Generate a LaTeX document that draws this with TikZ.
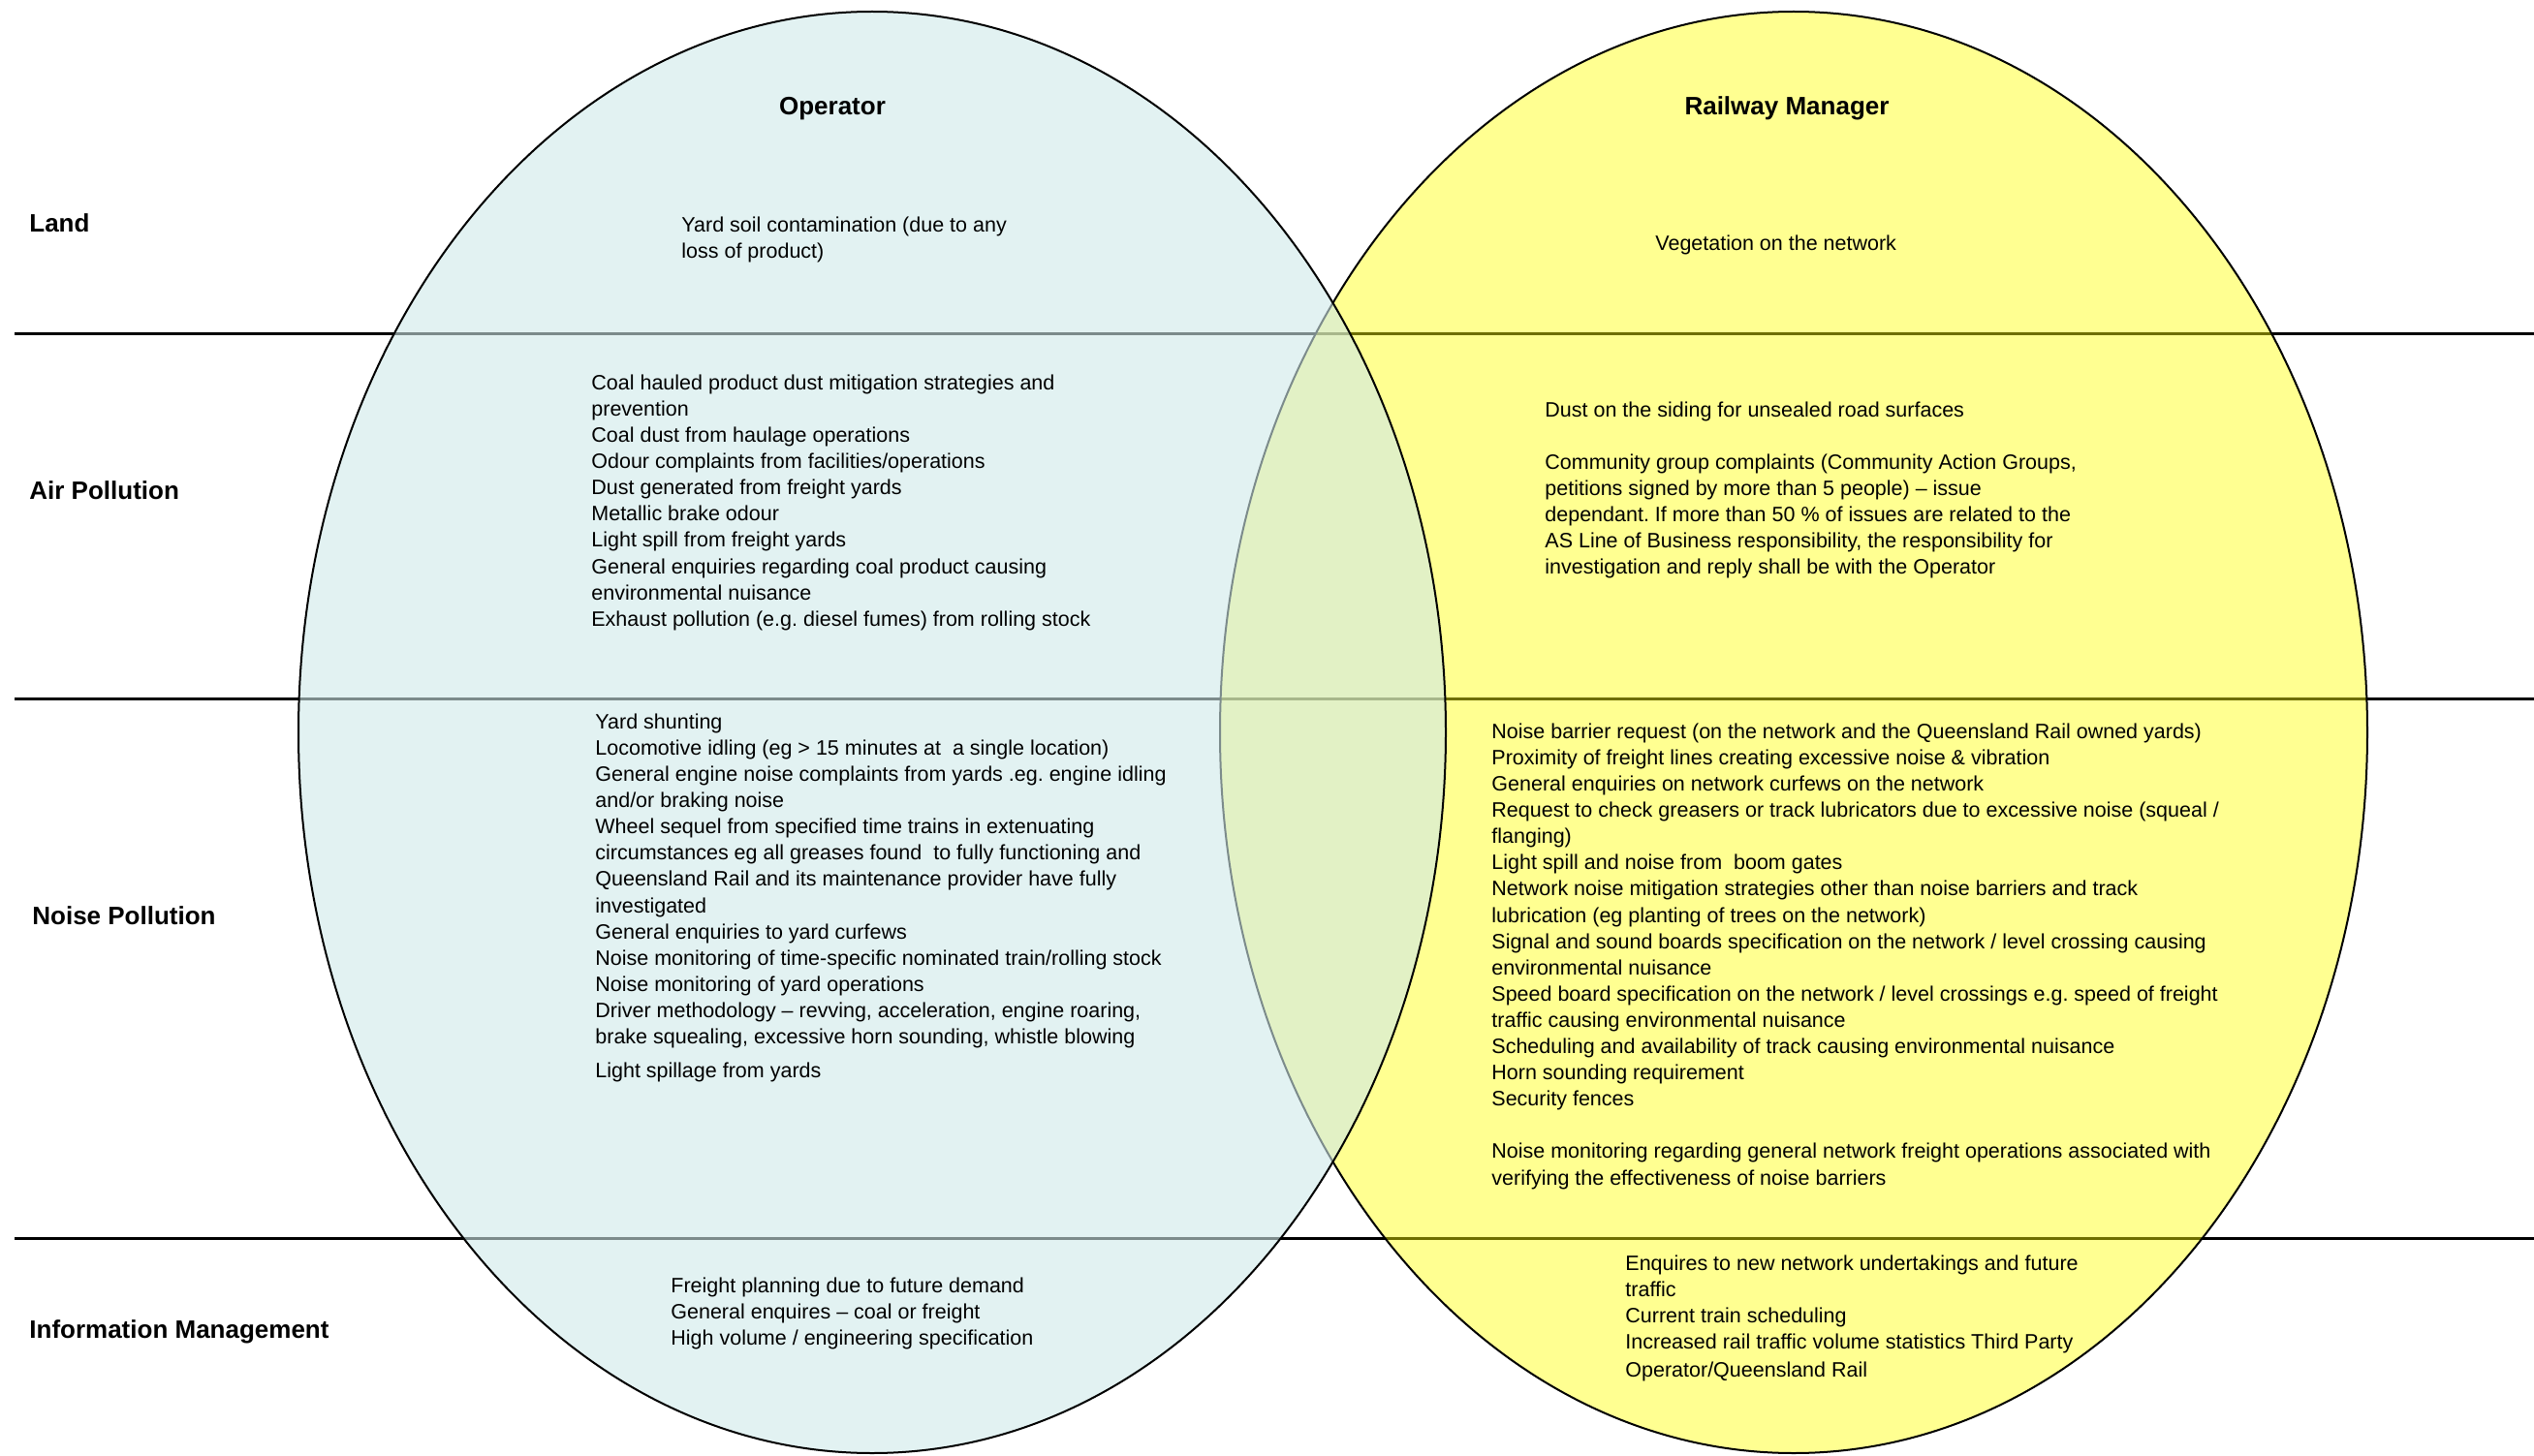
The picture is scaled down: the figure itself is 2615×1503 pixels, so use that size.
\documentclass[tikz,border=0pt]{standalone}
\usepackage{fontspec}
\setmainfont{Liberation Sans}
\definecolor{opfill}{RGB}{207,233,233}
\definecolor{rmfill}{RGB}{255,255,0}
\begin{document}
\frenchspacing
\begin{tikzpicture}[x=0.5pt,y=-0.5pt,
  sepline/.style={line width=1.5pt, black},
  outline/.style={line width=1pt, black},
  body/.style={anchor=north west, inner sep=0pt, align=left, font=\fontsize{10.75}{13.55}\selectfont},
  rowlabel/.style={anchor=base west, inner sep=0pt, font=\fontsize{13}{15}\selectfont\bfseries},
  header/.style={anchor=base, inner sep=0pt, font=\fontsize{13}{15}\selectfont\bfseries},
  ]
\useasboundingbox (0,0) rectangle (2615,1503);
% separators
\coordinate (s1a) at (15,345);    \coordinate (s1b) at (2615,345);
\coordinate (s2a) at (15,721);    \coordinate (s2b) at (2615,721);
\coordinate (s3a) at (15,1278);   \coordinate (s3b) at (2615,1278);
\draw[sepline] (s1a) -- (s1b);
\draw[sepline] (s2a) -- (s2b);
\draw[sepline] (s3a) -- (s3b);
% ellipses
\coordinate (rmc) at (1851,756);
\coordinate (opc) at (900,756);
\fill[rmfill, fill opacity=0.43] (rmc) ellipse [x radius=296pt, y radius=372pt];
\draw[outline] (rmc) ellipse [x radius=296pt, y radius=372pt];
\fill[opfill, fill opacity=0.6] (opc) ellipse [x radius=296pt, y radius=372pt];
\draw[outline] (opc) ellipse [x radius=296pt, y radius=372pt];
% headers
\node[header] (hop) at (859,119) {Operator};
\node[header] (hrm) at (1844,119) {Railway Manager};
% row labels
\node[rowlabel] (land) at (30,240) {Land};
\node[rowlabel] (air) at (30,516) {Air Pollution};
\node[rowlabel] (noise) at (33,954) {Noise Pollution};
\node[rowlabel] (info) at (30,1381) {Information Management};
% operator texts
\node[body] (opland) at (703,220) {\strut Yard soil contamination (due to any\\
loss of product)};
\node[body] (opair) at (610,383) {\strut Coal hauled product dust mitigation strategies and\\
prevention\\
Coal dust from haulage operations\\
Odour complaints from facilities/operations\\
Dust generated from freight yards\\
Metallic brake odour\\
Light spill from freight yards\\
General enquiries regarding coal product causing\\
environmental nuisance\\
Exhaust pollution (e.g. diesel fumes) from rolling stock};
\node[body] (opnoise) at (614,733) {\strut Yard shunting\\
Locomotive idling (eg > 15 minutes at\ \ a single location)\\
General engine noise complaints from yards .eg. engine idling\\
and/or braking noise\\
Wheel sequel from specified time trains in extenuating\\
circumstances eg all greases found\ \ to fully functioning and\\
Queensland Rail and its maintenance provider have fully\\
investigated\\
General enquiries to yard curfews\\
Noise monitoring of time-specific nominated train/rolling stock\\
Noise monitoring of yard operations\\
Driver methodology – revving, acceleration, engine roaring,\\
brake squealing, excessive horn sounding, whistle blowing\\[4pt]
Light spillage from yards};
\node[body] (opinfo) at (692,1315) {\strut Freight planning due to future demand\\
General enquires – coal or freight\\
High volume / engineering specification};
% railway manager texts
\node[body] (rmland) at (1708,239) {\strut Vegetation on the network};
\node[body] (rmair) at (1594,411) {\strut Dust on the siding for unsealed road surfaces\\[13.55pt]
Community group complaints (Community Action Groups,\\
petitions signed by more than 5 people) – issue\\
dependant. If more than 50 \% of issues are related to the\\
AS Line of Business responsibility, the responsibility for\\
investigation and reply shall be with the Operator};
\node[body] (rmnoise) at (1539,743) {\strut Noise barrier request (on the network and the Queensland Rail owned yards)\\
Proximity of freight lines creating excessive noise \& vibration\\
General enquiries on network curfews on the network\\
Request to check greasers or track lubricators due to excessive noise (squeal /\\
flanging)\\
Light spill and noise from\ \ boom gates\\
Network noise mitigation strategies other than noise barriers and track\\
lubrication (eg planting of trees on the network)\\
Signal and sound boards specification on the network / level crossing causing\\
environmental nuisance\\
Speed board specification on the network / level crossings e.g. speed of freight\\
traffic causing environmental nuisance\\
Scheduling and availability of track causing environmental nuisance\\
Horn sounding requirement\\
Security fences\\[13.55pt]
Noise monitoring regarding general network freight operations associated with\\
verifying the effectiveness of noise barriers};
\node[body] (rminfo) at (1677,1292) {\strut Enquires to new network undertakings and future\\
traffic\\
Current train scheduling\\
Increased rail traffic volume statistics Third Party\\[1pt]
Operator/Queensland Rail};
\end{tikzpicture}
\end{document}
